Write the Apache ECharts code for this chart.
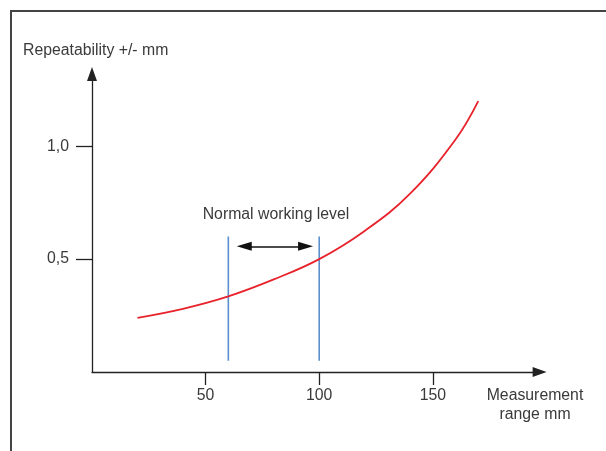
<!DOCTYPE html>
<html>
<head>
<meta charset="utf-8">
<script src="https://cdn.jsdelivr.net/npm/echarts@6/dist/echarts.min.js"></script>
<style>html,body{margin:0;padding:0;background:#fff;}#c{width:606px;height:451px;}</style>
</head>
<body>
<div id="c"></div>
<script>
// Data
var curveX = [20, 40, 60, 80, 100, 120, 140, 160, 170];
var curveY = [0.24, 0.28, 0.335, 0.41, 0.5, 0.625, 0.79, 1.03, 1.2];
var xTickValues = [50, 100, 150];
var yTickValues = [0.5, 1.0];
var workingLimits = [60, 100];
var limitSpan = [0.05, 0.6];
var arrowRange = [67, 94];
var arrowLevel = 0.557;
var yAxisTitle = 'Repeatability +/- mm';
var xAxisTitle = 'Measurement\nrange mm';
var annotationText = 'Normal working level';

var FONT = '"Liberation Sans", Arial, sans-serif';
var TXT = '#3a3a3a';
var FS = 15.8;

var curveData = curveX.map(function (x, i) { return [x, curveY[i]]; });
var limitSeries = workingLimits.map(function (x) {
  return {
    type: 'line', silent: true, symbol: 'none', animation: false,
    data: [[x, limitSpan[0]], [x, limitSpan[1]]],
    lineStyle: { color: '#5b8fcf', width: 1.6 }, z: 2
  };
});

var chart = echarts.init(document.getElementById('c'), null, { renderer: 'canvas' });
chart.setOption({
  animation: false,
  backgroundColor: '#fff',
  grid: { left: 92, top: 74, bottom: 79, width: 447.6 },
  xAxis: {
    type: 'value', min: 0, max: 197,
    splitLine: { show: false },
    axisLine: { show: true, symbol: ['none', 'triangle'], symbolSize: [10, 14], lineStyle: { color: '#222', width: 1.3 } },
    axisTick: { show: true, customValues: xTickValues, length: 13, lineStyle: { color: '#222', width: 1.3 } },
    axisLabel: { customValues: xTickValues, margin: 16, color: TXT, fontSize: FS, fontFamily: FONT }
  },
  yAxis: {
    type: 'value', min: 0, max: 1.32,
    splitLine: { show: false },
    axisLine: { show: true, symbol: ['none', 'triangle'], symbolSize: [10, 14], lineStyle: { color: '#222', width: 1.3 } },
    axisTick: { show: true, customValues: yTickValues, length: 16, lineStyle: { color: '#222', width: 1.3 } },
    axisLabel: {
      customValues: yTickValues, margin: 23, color: TXT, fontSize: FS, fontFamily: FONT,
      formatter: function (v) { return v.toFixed(1).replace('.', ','); }
    }
  },
  series: [
    {
      type: 'line', data: curveData, smooth: 0.4, symbol: 'none',
      lineStyle: { color: '#e8222b', width: 1.8 }, z: 3,
      markLine: {
        silent: true, animation: false,
        symbol: ['triangle', 'triangle'], symbolSize: [9, 15],
        label: { show: false },
        lineStyle: { color: '#111', width: 1.5, type: 'solid' },
        data: [[{ coord: [arrowRange[0], arrowLevel] }, { coord: [arrowRange[1], arrowLevel] }]]
      }
    }
  ].concat(limitSeries),
  graphic: [
    { type: 'rect', shape: { x: 11, y: 11, width: 700, height: 600 }, style: { fill: 'none', stroke: '#444', lineWidth: 2 }, silent: true },
    { type: 'text', x: 23, y: 51, style: { text: yAxisTitle, fill: TXT, font: FS + 'px ' + FONT, textAlign: 'left', textVerticalAlign: 'middle' } },
    { type: 'text', x: 276, y: 215, style: { text: annotationText, fill: TXT, font: FS + 'px ' + FONT, textAlign: 'center', textVerticalAlign: 'middle' } },
    { type: 'text', x: 535, y: 405.5, style: { text: xAxisTitle, fill: TXT, font: FS + 'px ' + FONT, lineHeight: 19, textAlign: 'center', textVerticalAlign: 'middle' } }
  ]
});
</script>
</body>
</html>
